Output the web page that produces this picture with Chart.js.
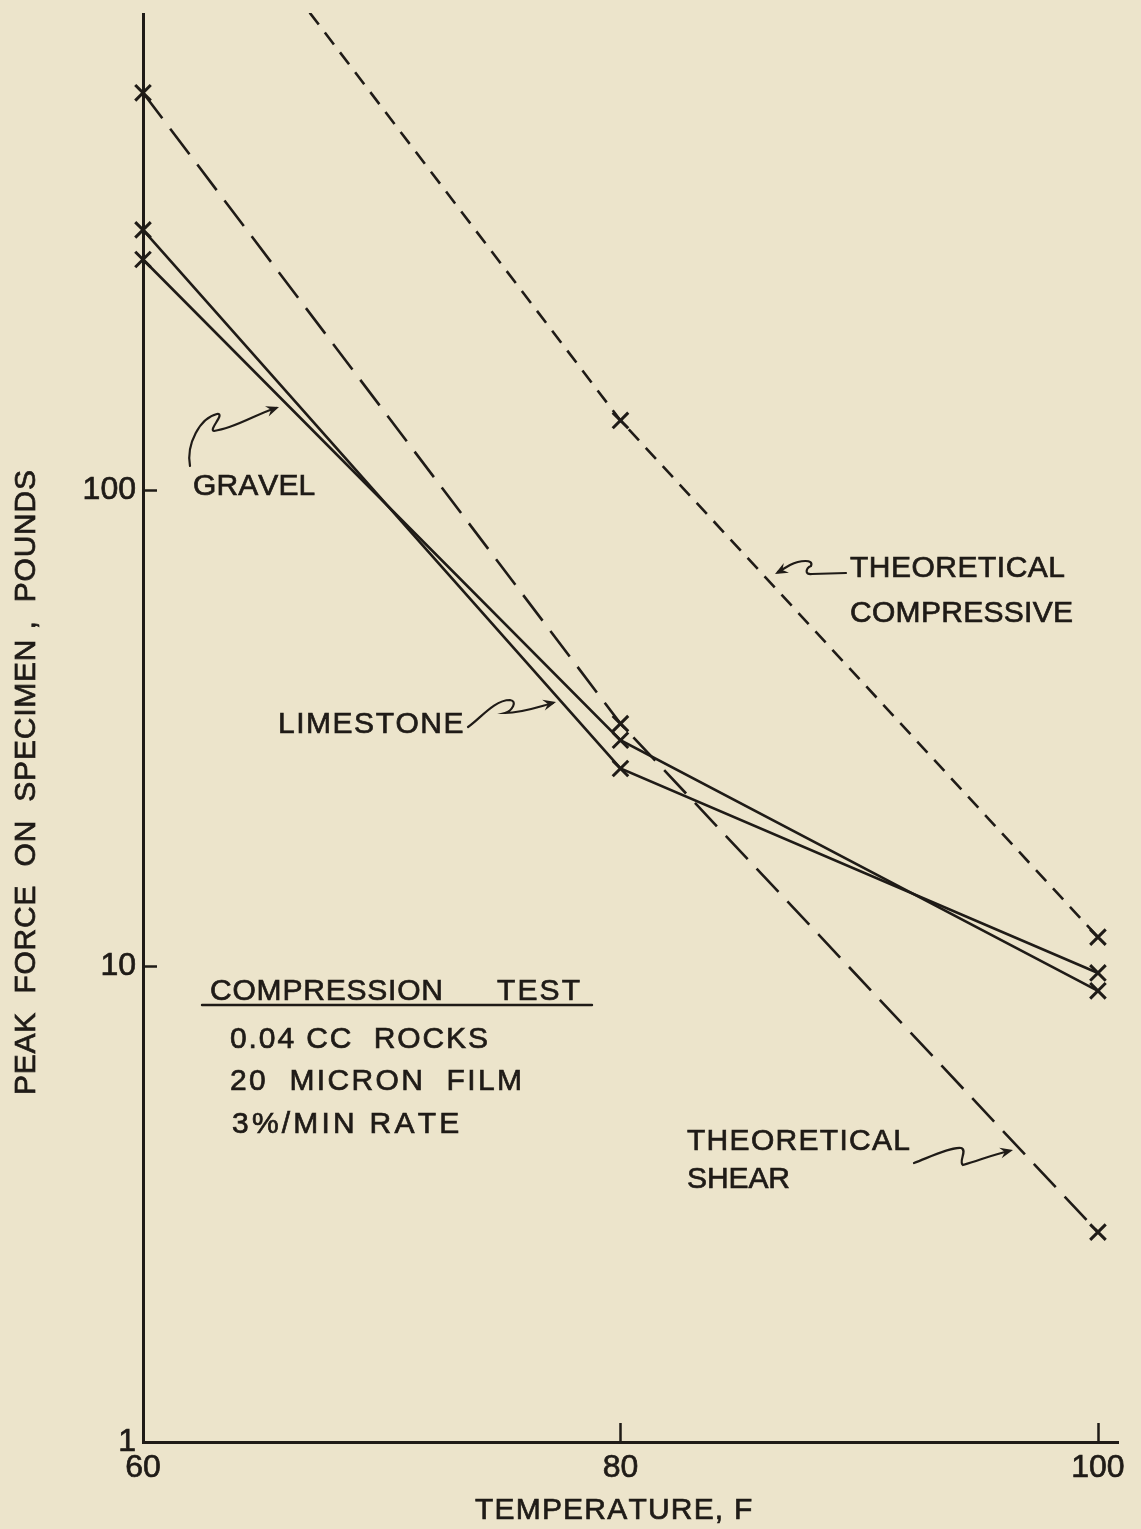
<!DOCTYPE html>
<html>
<head>
<meta charset="utf-8">
<script src="https://cdn.jsdelivr.net/npm/chart.js@4.4.1/dist/chart.umd.min.js"></script>
<style>
  html, body { margin: 0; padding: 0; background: #ece4cb; }
  #wrap { width: 1141px; height: 1529px; }
</style>
</head>
<body>
<div id="wrap"><canvas id="chart" width="1141" height="1529"></canvas></div>
<script>
// Temperatures (F) at which each specimen series was tested
const temperatures = [60, 80, 100];

// Peak force on specimen, pounds
const limestone = [352, 26.0, 9.67];
const gravel = [305, 29.8, 8.87];
const theoreticalShear = [683, 32.3, 2.76];
const theoreticalCompressive = [2900, 140, 11.5];

// Axis ticks
const xTickValues = [60, 80, 100];
const yTickValues = [1, 10, 100];
const xRange = [60, 100.84];
const yRange = [1, 1000];

const INK = '#1f1b17';
const PAPER = '#ece4cb';
const FONT = "'Liberation Sans', Arial, sans-serif";

Chart.defaults.font.family = FONT;
Chart.defaults.font.size = 30;
Chart.defaults.color = INK;

function series(label, values, dash) {
  return {
    label: label,
    data: values.map((v, i) => ({ x: temperatures[i], y: v })),
    borderColor: INK,
    borderWidth: 2.6,
    borderDash: dash,
    pointStyle: 'crossRot',
    pointRadius: 11,
    pointHoverRadius: 11,
    pointBorderWidth: 3,
    pointBorderColor: INK,
    pointBackgroundColor: INK,
    tension: 0,
    fill: false,
    clip: { left: 14, right: 14, top: 1, bottom: 14 }
  };
}

// Paper background
const paperPlugin = {
  id: 'paper',
  beforeDraw(chart) {
    const ctx = chart.ctx;
    ctx.save();
    ctx.fillStyle = PAPER;
    ctx.fillRect(0, 0, chart.width, chart.height);
    ctx.restore();
  }
};

// Tick marks pointing into the plot
const inwardTicksPlugin = {
  id: 'inwardTicks',
  afterDraw(chart) {
    const { ctx, chartArea: area, scales } = chart;
    ctx.save();
    ctx.strokeStyle = INK;
    ctx.lineWidth = 2.5;
    ctx.beginPath();
    yTickValues.filter(v => v > yRange[0]).forEach(v => {
      const py = Math.round(scales.y.getPixelForValue(v)) + 0.5;
      ctx.moveTo(area.left, py);
      ctx.lineTo(area.left + 14, py);
    });
    xTickValues.filter(v => v > xRange[0]).forEach(v => {
      const px = Math.round(scales.x.getPixelForValue(v)) + 0.5;
      ctx.moveTo(px, area.bottom);
      ctx.lineTo(px, area.bottom - 19);
    });
    ctx.stroke();
    ctx.restore();
  }
};

// Lettering spread evenly over a given width, like stencilled drafting text
function spacedText(ctx, text, x, y, width) {
  const natural = ctx.measureText(text).width;
  const gap = text.length > 1 ? (width - natural) / (text.length - 1) : 0;
  let cx = x;
  for (const ch of text) {
    ctx.fillText(ch, cx, y);
    ctx.strokeText(ch, cx, y);
    cx += ctx.measureText(ch).width + gap;
  }
}

function arrowHead(ctx, tipX, tipY, fromX, fromY, size) {
  const a = Math.atan2(tipY - fromY, tipX - fromX);
  ctx.beginPath();
  ctx.moveTo(tipX, tipY);
  ctx.lineTo(tipX - size * Math.cos(a - 0.4), tipY - size * Math.sin(a - 0.4));
  ctx.lineTo(tipX - size * 0.6 * Math.cos(a), tipY - size * 0.6 * Math.sin(a));
  ctx.lineTo(tipX - size * Math.cos(a + 0.4), tipY - size * Math.sin(a + 0.4));
  ctx.closePath();
  ctx.fill();
}

// Axis titles, curve labels with their leader squiggles, and the test note
const notesPlugin = {
  id: 'notes',
  afterDraw(chart) {
    const ctx = chart.ctx;
    ctx.save();
    ctx.fillStyle = INK;
    ctx.strokeStyle = INK;
    ctx.lineWidth = 0.7;
    ctx.font = '30px ' + FONT;
    ctx.textAlign = 'left';

    // axis titles
    ctx.textBaseline = 'middle';
    spacedText(ctx, 'TEMPERATURE, F', 475, 1511, 275);
    ctx.save();
    ctx.translate(27, 783);
    ctx.rotate(-Math.PI / 2);
    spacedText(ctx, 'PEAK  FORCE  ON  SPECIMEN ,  POUNDS', -312, 0, 625);
    ctx.restore();

    // curve labels
    ctx.textBaseline = 'alphabetic';
    spacedText(ctx, 'GRAVEL', 193, 495, 120);
    spacedText(ctx, 'LIMESTONE', 278, 733, 185);
    spacedText(ctx, 'THEORETICAL', 850, 577, 215);
    spacedText(ctx, 'COMPRESSIVE', 850, 622, 223);
    spacedText(ctx, 'THEORETICAL', 687, 1150, 223);
    spacedText(ctx, 'SHEAR', 687, 1188, 103);

    // test conditions
    spacedText(ctx, 'COMPRESSION', 210, 1000, 233);
    spacedText(ctx, 'TEST', 497, 1000, 83);
    spacedText(ctx, '0.04 CC  ROCKS', 230, 1048, 258);
    spacedText(ctx, '20  MICRON  FILM', 230, 1090, 292);
    spacedText(ctx, '3%/MIN RATE', 232, 1133, 225);

    ctx.lineWidth = 2.4;
    ctx.lineCap = 'round';
    ctx.beginPath();
    ctx.moveTo(202, 1005);
    ctx.lineTo(592, 1005);
    ctx.stroke();

    // leader squiggles
    ctx.lineWidth = 2.2;
    // gravel
    ctx.beginPath();
    ctx.moveTo(190, 466);
    ctx.bezierCurveTo(186, 444, 200, 418, 217, 414);
    ctx.bezierCurveTo(226, 413, 208, 430, 214, 431);
    ctx.bezierCurveTo(236, 428, 256, 414, 276, 408);
    ctx.stroke();
    arrowHead(ctx, 279, 407, 262, 413, 14);
    // limestone
    ctx.beginPath();
    ctx.moveTo(468, 727);
    ctx.bezierCurveTo(480, 719, 494, 700, 510, 700);
    ctx.bezierCurveTo(518, 701, 512, 711, 505, 713);
    ctx.bezierCurveTo(522, 713, 538, 707, 553, 703);
    ctx.stroke();
    arrowHead(ctx, 556, 702, 540, 706, 14);
    // theoretical compressive
    ctx.beginPath();
    ctx.moveTo(846, 573);
    ctx.lineTo(812, 574);
    ctx.bezierCurveTo(804, 575, 806, 568, 811, 566);
    ctx.bezierCurveTo(814, 559, 800, 560, 790, 565);
    ctx.lineTo(778, 572);
    ctx.stroke();
    arrowHead(ctx, 775, 574, 790, 566, 14);
    // theoretical shear
    ctx.beginPath();
    ctx.moveTo(914, 1163);
    ctx.bezierCurveTo(930, 1157, 950, 1147, 961, 1148);
    ctx.bezierCurveTo(968, 1150, 958, 1162, 963, 1165);
    ctx.bezierCurveTo(980, 1160, 995, 1154, 1009, 1151);
    ctx.stroke();
    arrowHead(ctx, 1013, 1150, 996, 1154, 14);

    ctx.restore();
  }
};

new Chart(document.getElementById('chart'), {
  type: 'line',
  data: {
    datasets: [
      series('Limestone', limestone, []),
      series('Gravel', gravel, []),
      series('Theoretical shear', theoreticalShear, [32, 13]),
      series('Theoretical compressive', theoreticalCompressive, [15, 10])
    ]
  },
  options: {
    responsive: false,
    animation: false,
    events: [],
    layout: { padding: { top: 11, right: 23, bottom: 0, left: 0 } },
    plugins: {
      legend: { display: false },
      tooltip: { enabled: false }
    },
    scales: {
      x: {
        type: 'linear',
        min: xRange[0],
        max: xRange[1],
        afterBuildTicks: (scale) => { scale.ticks = xTickValues.map(v => ({ value: v })); },
        afterFit: (scale) => { scale.height = 87; scale.paddingLeft = 0; scale.paddingRight = 0; },
        grid: { display: false, drawTicks: false },
        border: { display: true, color: INK, width: 3 },
        ticks: { padding: 7, maxRotation: 0, autoSkip: false, font: { size: 32 }, textStrokeColor: INK, textStrokeWidth: 0.7, callback: (v) => String(v) },
        title: { display: false }
      },
      y: {
        type: 'logarithmic',
        min: yRange[0],
        max: yRange[1],
        afterBuildTicks: (scale) => { scale.ticks = yTickValues.map(v => ({ value: v })); },
        afterFit: (scale) => { scale.width = 143; scale.paddingTop = 0; scale.paddingBottom = 0; },
        grid: { display: false, drawTicks: false },
        border: { display: true, color: INK, width: 3 },
        ticks: { padding: 7, autoSkip: false, font: { size: 32 }, textStrokeColor: INK, textStrokeWidth: 0.7, callback: (v) => String(v) },
        title: { display: false }
      }
    }
  },
  plugins: [paperPlugin, inwardTicksPlugin, notesPlugin]
});
</script>
</body>
</html>
